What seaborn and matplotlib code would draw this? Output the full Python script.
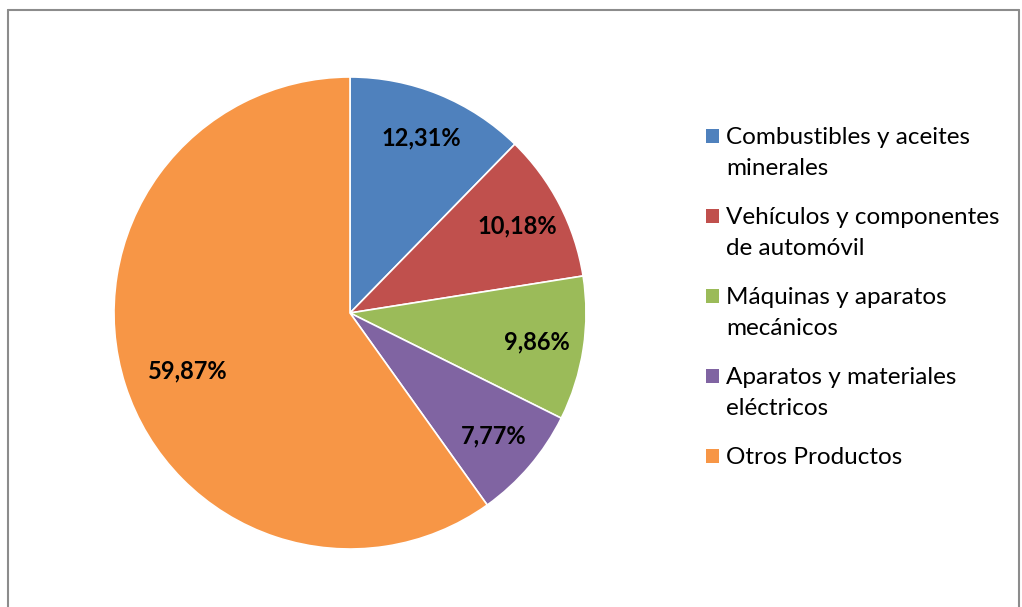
import matplotlib.pyplot as plt
import seaborn as sns
from matplotlib.patches import Rectangle
from matplotlib.lines import Line2D

# data
categorias = ["Combustibles y aceites\nminerales",
              "Vehículos y componentes\nde automóvil",
              "Máquinas y aparatos\nmecánicos",
              "Aparatos y materiales\neléctricos",
              "Otros Productos"]
porcentajes = [12.31, 10.18, 9.86, 7.77, 59.87]
colores = ["#4F81BD", "#C0504D", "#9BBB59", "#8064A2", "#F79646"]

sns.set_theme(style="white")
plt.rcParams['font.family'] = ['Lato', 'DejaVu Sans']

W, H = 1022, 607
fig = plt.figure(figsize=(W / 100, H / 100), dpi=100)

# pie axes: centre (350, 313) px, radius 236 px
cx, cy, r = 350, 313, 236
ax = fig.add_axes([(cx - r) / W, (H - cy - r) / H, 2 * r / W, 2 * r / H])
etiquetas = [f"{p:.2f}%".replace(".", ",") for p in porcentajes]
wedges, textos = ax.pie(
    porcentajes, labels=etiquetas, colors=sns.color_palette(colores),
    startangle=90, counterclock=False, radius=1, labeldistance=0.8,
    wedgeprops=dict(edgecolor="white", linewidth=1.2),
    textprops=dict(fontsize=17, fontweight="bold", color="black"))
for t in textos:
    t.set_ha("center")
    t.set_va("center")
# Excel puts the big label a bit closer to the centre
x, y = textos[-1].get_position()
textos[-1].set_position((x * 0.9, y * 0.93 - 0.02))
ax.set_xlim(-1, 1)
ax.set_ylim(-1, 1)
ax.set_aspect("auto")
ax.axis("off")

# legend drawn by hand so the marker sits on the first line
for i, (lab, col) in enumerate(zip(categorias, colores)):
    base = 144 + 80 * i
    fig.add_artist(Rectangle((706 / W, 1 - (base - 1) / H), 13 / W, 14 / H,
                             transform=fig.transFigure, facecolor=col, edgecolor="none"))
    for j, linea in enumerate(lab.split("\n")):
        fig.text(726 / W, 1 - (base + 31 * j) / H, linea, fontsize=17.5,
                 ha="left", va="baseline", color="black")

# outer border
gris = "#8C8C8C"
fig.add_artist(Line2D([8 / W, 8 / W], [0, 1 - 10 / H], transform=fig.transFigure, color=gris, lw=1.5))
fig.add_artist(Line2D([8 / W, 1019 / W], [1 - 10 / H, 1 - 10 / H], transform=fig.transFigure, color=gris, lw=1.5))
fig.add_artist(Line2D([1019 / W, 1019 / W], [0, 1 - 10 / H], transform=fig.transFigure, color=gris, lw=1.5))

fig.savefig("out.png", dpi=100)
